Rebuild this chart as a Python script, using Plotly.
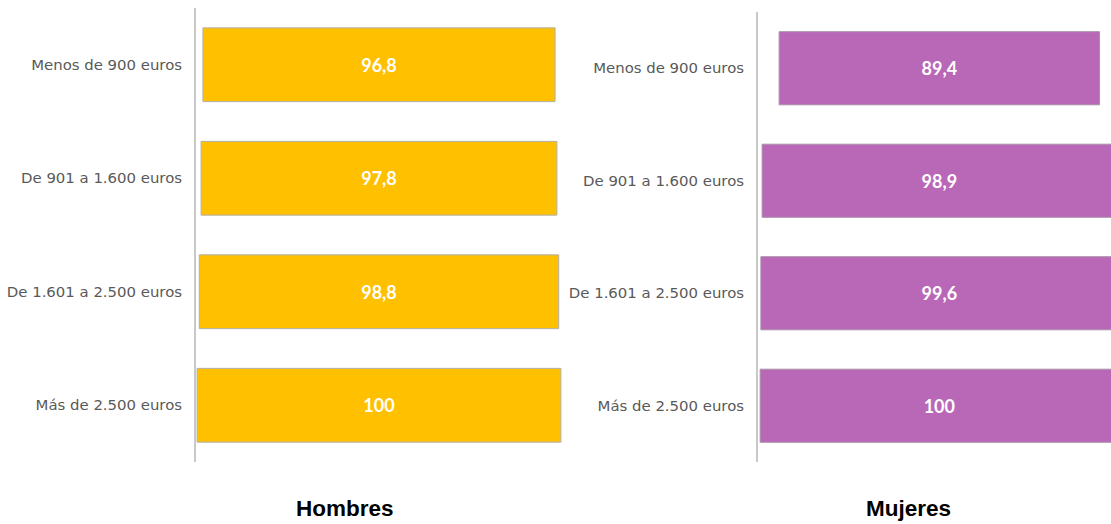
import plotly.graph_objects as go

categories = ["Menos de 900 euros", "De 901 a 1.600 euros", "De 1.601 a 2.500 euros", "Más de 2.500 euros"]
hombres = [96.8, 97.8, 98.8, 100]
mujeres = [89.4, 98.9, 99.6, 100]
titles = ["Hombres", "Mujeres"]

W, H = 1111, 524

def px(x):
    return x / W

def py(y):
    return 1 - y / H

fig = go.Figure()

fig.add_trace(go.Funnel(
    y=categories, x=hombres, xaxis="x", yaxis="y",
    marker=dict(color="#FFC000", line=dict(color="#B0B0B0", width=1)),
    connector=dict(visible=False),
    texttemplate="<b>%{x}</b>", textposition="inside",
    textfont=dict(color="white", size=18, family="Lato"),
    width=0.65, showlegend=False,
))
fig.add_trace(go.Funnel(
    y=categories, x=mujeres, xaxis="x2", yaxis="y2",
    marker=dict(color="#B968B8", line=dict(color="#A890A8", width=1)),
    connector=dict(visible=False),
    texttemplate="<b>%{x}</b>", textposition="inside",
    textfont=dict(color="white", size=18, family="Lato"),
    width=0.65, showlegend=False,
))

ax_common = dict(showgrid=False, zeroline=False, showticklabels=False, showline=False, fixedrange=True)
ycommon = dict(showgrid=False, zeroline=False, showline=True, linecolor="#C8C8C8", linewidth=2,
               ticks="", tickfont=dict(family="DejaVu Sans", size=14.9, color="#595959"),
               ticklabelstandoff=9, categoryorder="array", categoryarray=categories,
               range=[3.5, -0.5])

fig.update_layout(
    width=W, height=H,
    margin=dict(l=0, r=0, t=0, b=0),
    paper_bgcolor="white", plot_bgcolor="white",
    separators=",.",
    xaxis=dict(domain=[px(196), px(562)], range=[-50.3, 50.3], **ax_common),
    yaxis=dict(domain=[py(462), py(8)], anchor="x", **ycommon),
    xaxis2=dict(domain=[px(758), 1.0], range=[-50.6, 47.9], anchor="y2", **ax_common),
    yaxis2=dict(domain=[py(462), py(12)], anchor="x2", **ycommon),
    annotations=[
        dict(text="<b>%s</b>" % titles[0], x=px(345), y=py(508), xref="paper", yref="paper",
             xanchor="center", yanchor="middle",
             showarrow=False, font=dict(family="Liberation Sans", size=22.5, color="black")),
        dict(text="<b>%s</b>" % titles[1], x=px(908), y=py(508), xref="paper", yref="paper",
             xanchor="center", yanchor="middle",
             showarrow=False, font=dict(family="Liberation Sans", size=22.5, color="black")),
    ],
)

fig.write_html("out.html", config={"displayModeBar": False},
               post_script="document.body.style.margin='0';document.body.style.overflow='hidden';")
